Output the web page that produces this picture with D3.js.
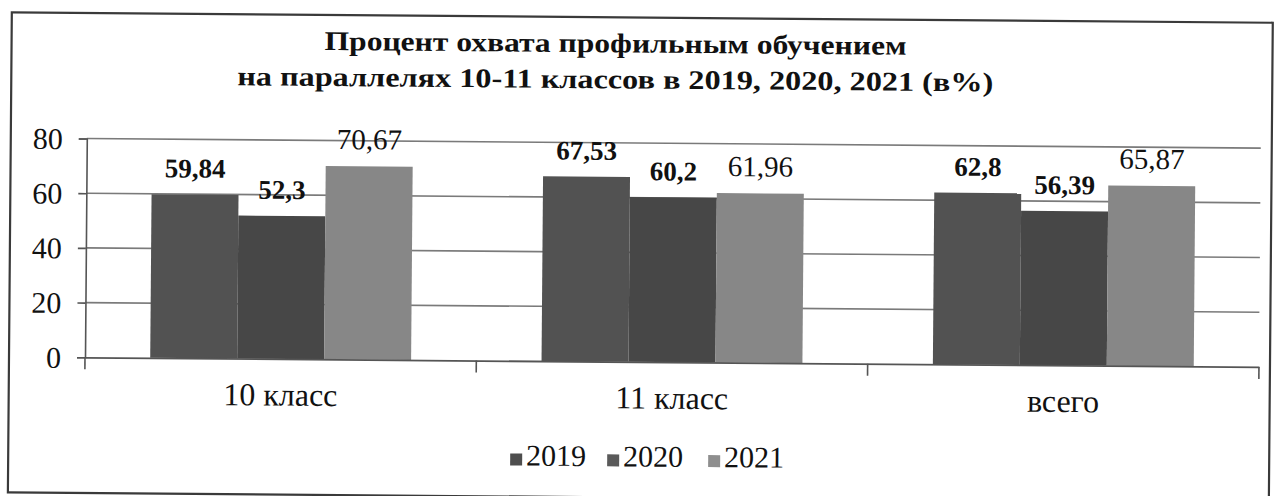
<!DOCTYPE html>
<html>
<head>
<meta charset="utf-8">
<script src="https://cdn.jsdelivr.net/npm/d3@7"></script>
<style>
  html, body { margin: 0; padding: 0; background: #fff; }
  svg { display: block; }
</style>
</head>
<body>
<svg id="chart" width="1279" height="496"></svg>
<script>
const categories = ["10 класс", "11 класс", "всего"];
const seriesNames = ["2019", "2020", "2021"];
const values2019 = [59.84, 67.53, 62.8];
const values2020 = [52.3, 60.2, 56.39];
const values2021 = [70.67, 61.96, 65.87];
const yTicks = [0, 20, 40, 60, 80];
const titleLines = ["Процент охвата профильным обучением", "на параллелях 10-11 классов в 2019, 2020, 2021 (в%)"];

const FONT = "Liberation Serif";
const seriesValues = [values2019, values2020, values2021];
const colors = ["#525252", "#474747", "#878787"];
const legendColors = ["#4e4e4e", "#5a5a5a", "#8e8e8e"];

const svg = d3.select("#chart");
svg.append("rect").attr("width", 1279).attr("height", 496).attr("fill", "#fff");

const g = svg.append("g").attr("transform", "rotate(0.47, 85, 357)");

// border
g.append("rect").attr("x", 9).attr("y", 13).attr("width", 1261).attr("height", 480)
  .attr("fill", "none").attr("stroke", "#3a3a3a").attr("stroke-width", 2.2);

// title
const titleWidths = [582, 756];
titleLines.forEach((t, i) => {
  g.append("text").attr("x", 613).attr("y", [48, 84][i])
    .attr("text-anchor", "middle").attr("font-weight", "bold").attr("font-size", 27)
    .attr("font-family", FONT).attr("fill", "#111")
    .attr("textLength", titleWidths[i]).attr("lengthAdjust", "spacingAndGlyphs")
    .text(t);
});

const left = 85, right = 1259;
const y = d3.scaleLinear().domain([0, 80]).range([357.3, 138.5]);
const x0 = d3.scaleBand().domain(categories).range([left, right]).paddingInner(0).paddingOuter(0);
const x1 = d3.scaleBand().domain(seriesNames).range([0, x0.bandwidth()]).paddingInner(0).paddingOuter(0.75);

// gridlines
g.append("g").selectAll("line").data(yTicks.filter(d => d > 0)).join("line")
  .attr("x1", left).attr("x2", right)
  .attr("y1", d => y(d)).attr("y2", d => y(d))
  .attr("stroke", "#7a7a7a").attr("stroke-width", 1.6);

// y axis
const yAxis = d3.axisLeft(y).tickValues(yTicks).tickSize(8).tickPadding(16).tickFormat(d3.format("d"));
const ya = g.append("g").attr("transform", `translate(${left},0)`).call(yAxis);
ya.attr("font-family", FONT).attr("font-size", 30);
ya.select(".domain").attr("stroke", "#555").attr("stroke-width", 1.6);
ya.selectAll(".tick line").attr("stroke", "#555").attr("stroke-width", 1.6);
ya.selectAll(".tick text").attr("font-size", 30).attr("font-family", FONT).attr("fill", "#111").attr("dy", "0.34em");

// bars
seriesNames.forEach((s, si) => {
  g.append("g").selectAll("rect").data(categories).join("rect")
    .attr("x", (c) => x0(c) + x1(s))
    .attr("width", x1.bandwidth())
    .attr("y", (c, ci) => y(seriesValues[si][ci]))
    .attr("height", (c, ci) => y(0) - y(seriesValues[si][ci]))
    .attr("fill", colors[si]);
});

// x axis
const xAxis = d3.axisBottom(x0).tickSize(0).tickPadding(0).tickFormat("");
const xa = g.append("g").attr("transform", `translate(0,${y(0)})`).call(xAxis);
xa.select(".domain").attr("stroke", "#555").attr("stroke-width", 1.8);
const boundaries = [left].concat(categories.map(c => x0(c) + x0.bandwidth()));
xa.selectAll(".bt").data(boundaries).join("line").attr("class", "bt")
  .attr("x1", d => d).attr("x2", d => d).attr("y1", 0).attr("y2", 12)
  .attr("stroke", "#555").attr("stroke-width", 1.6);

// category labels
g.append("g").selectAll("text").data(categories).join("text")
  .attr("x", c => x0(c) + x0.bandwidth() / 2)
  .attr("y", 404)
  .attr("text-anchor", "middle").attr("font-size", 32)
  .attr("font-family", FONT).attr("fill", "#111")
  .text(c => c);

// data labels
const fmt = v => String(v).replace(".", ",");
seriesNames.forEach((s, si) => {
  g.append("g").selectAll("text").data(categories).join("text")
    .attr("x", c => x0(c) + x1(s) + x1.bandwidth() / 2)
    .attr("y", (c, ci) => y(seriesValues[si][ci]) - 17)
    .attr("text-anchor", "middle")
    .attr("font-weight", si < 2 ? "bold" : "normal")
    .attr("font-size", si < 2 ? 27 : 29)
    .attr("font-family", FONT).attr("fill", "#111")
    .text((c, ci) => fmt(seriesValues[si][ci]));
});

// legend
const legendX = [511, 608, 709];
const lg = g.append("g");
seriesNames.forEach((s, i) => {
  lg.append("rect").attr("x", legendX[i]).attr("y", 450).attr("width", 12).attr("height", 12).attr("fill", legendColors[i]);
  lg.append("text").attr("x", legendX[i] + 16).attr("y", 462).attr("font-size", 30)
    .attr("font-family", FONT).attr("fill", "#111").text(s);
});
</script>
</body>
</html>
